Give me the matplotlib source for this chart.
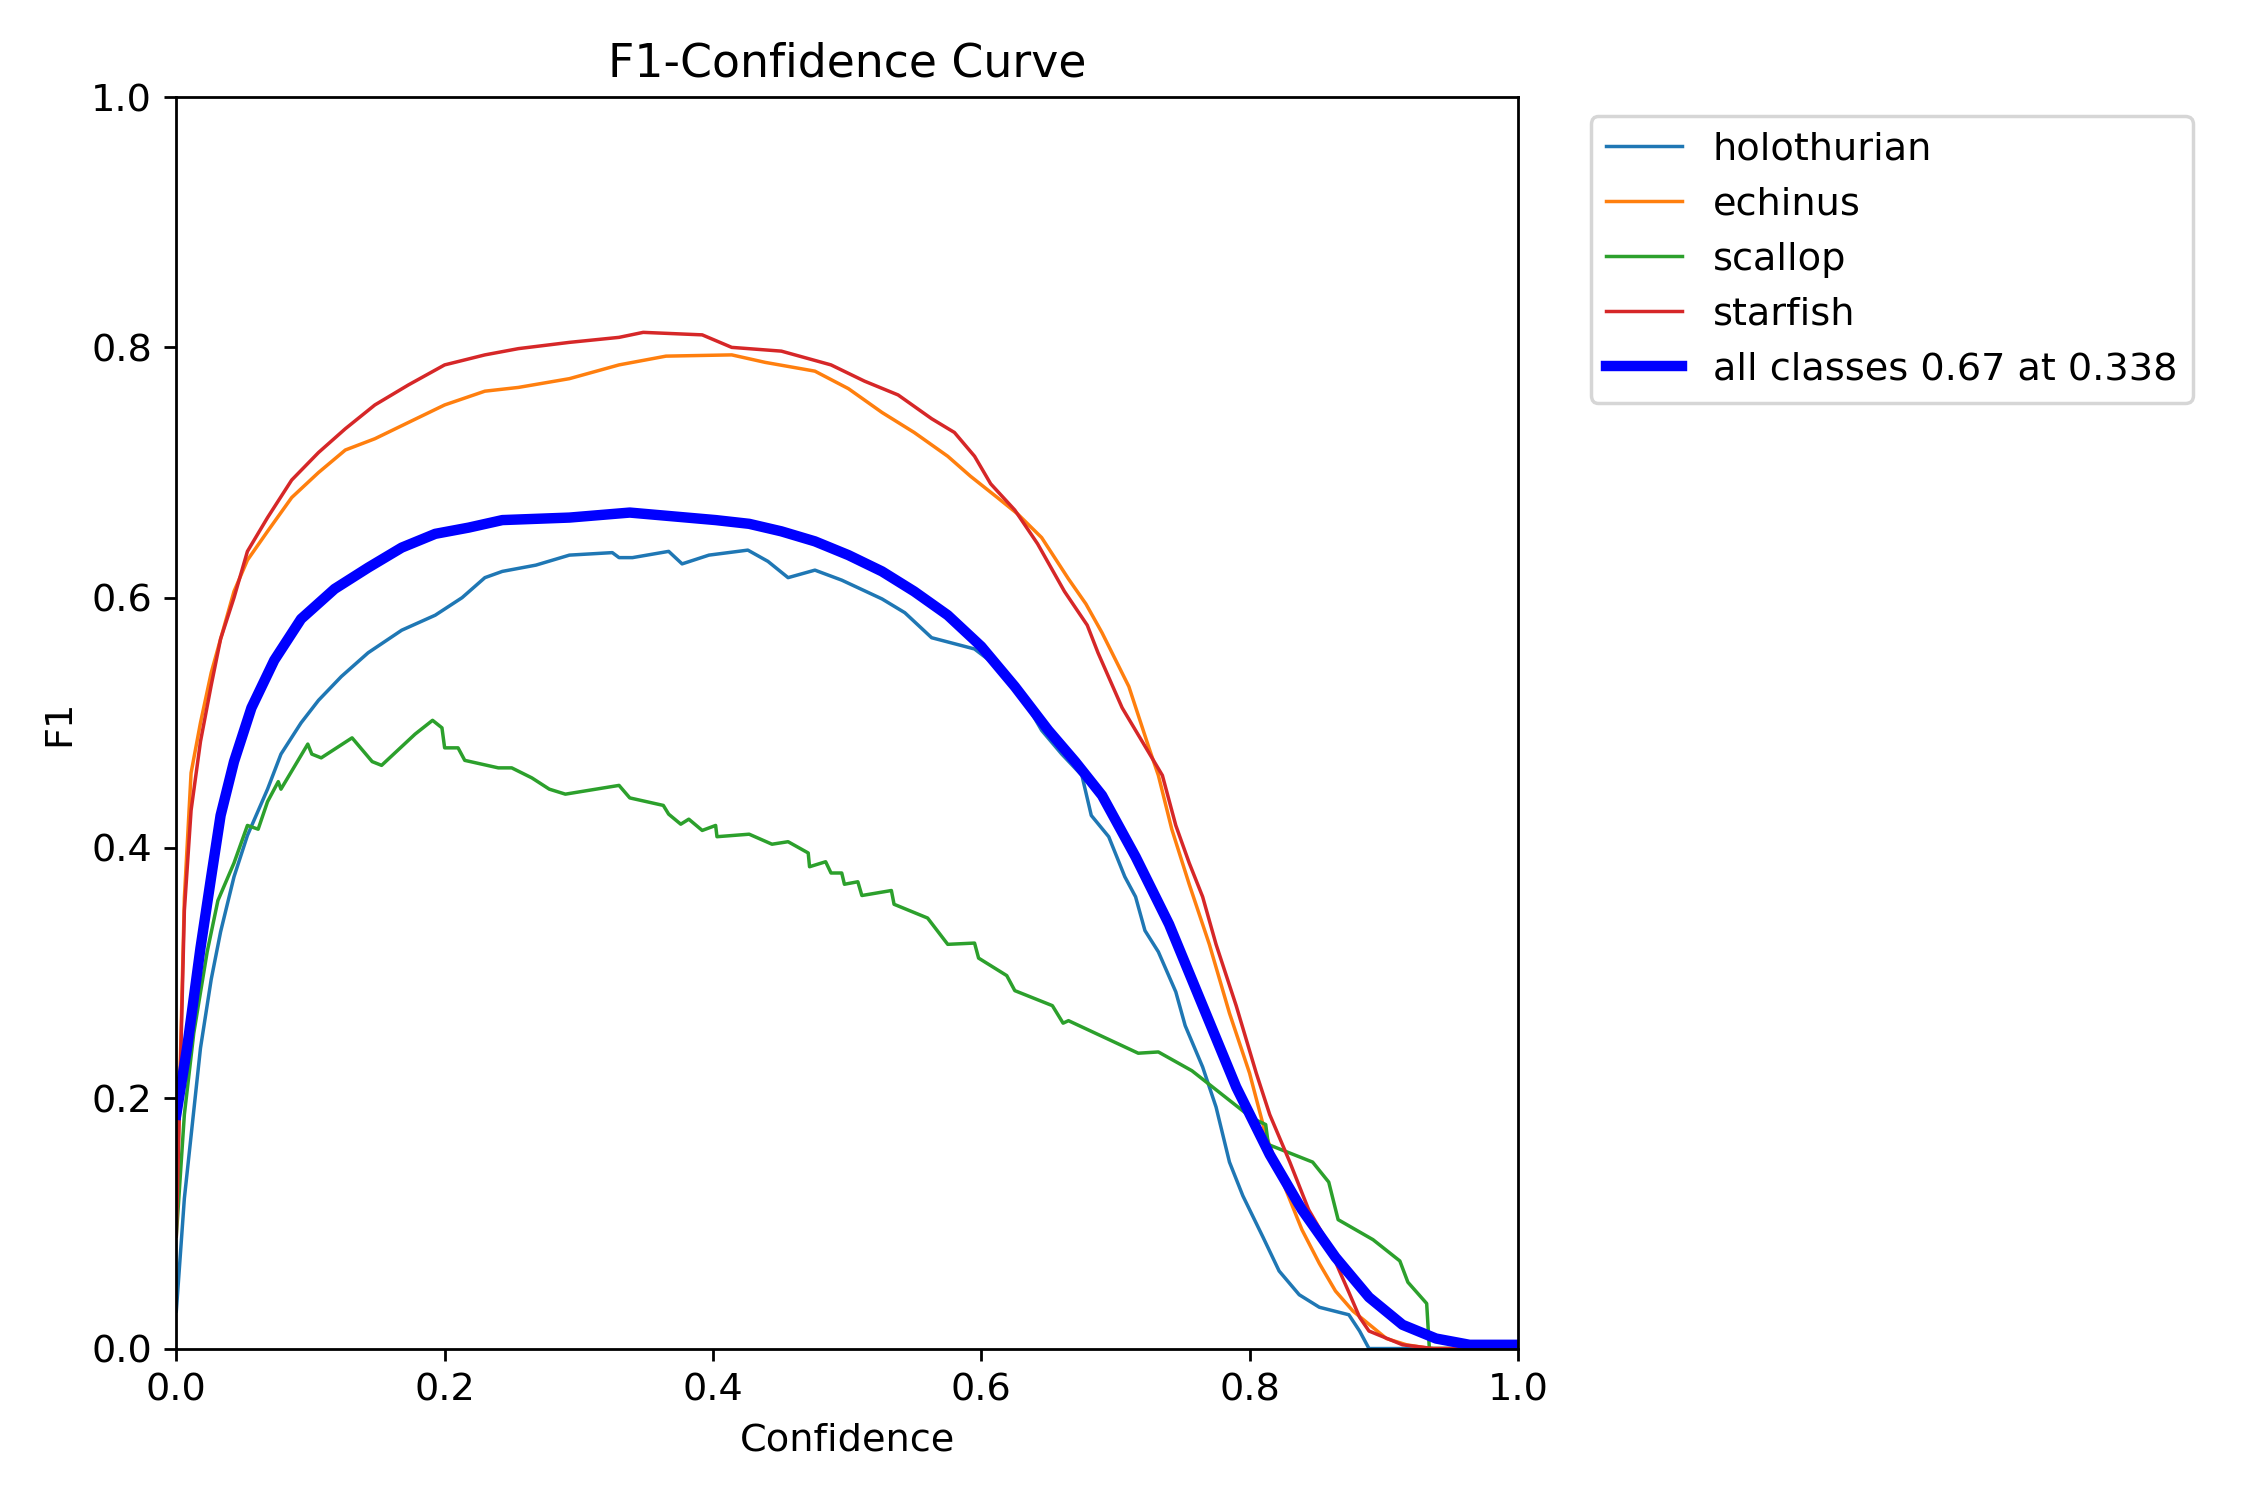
import numpy as np
import matplotlib
matplotlib.use("Agg")
import matplotlib.pyplot as plt

plt.rcParams["font.size"] = 11

# F1 vs confidence
names = ["holothurian", "echinus", "scallop", "starfish"]

holo_x = [0.0, 0.006, 0.011, 0.018, 0.026, 0.033, 0.043, 0.053, 0.068, 0.078, 0.093, 0.106,
          0.123, 0.143, 0.168, 0.193, 0.213, 0.23, 0.243, 0.268, 0.293, 0.325, 0.33, 0.34,
          0.367, 0.377, 0.397, 0.426, 0.441, 0.456, 0.476, 0.496, 0.526, 0.543, 0.563, 0.595,
          0.612, 0.62, 0.632, 0.645, 0.66, 0.675, 0.682, 0.695, 0.707, 0.715, 0.722, 0.732,
          0.745, 0.752, 0.765, 0.775, 0.785, 0.795, 0.81, 0.822, 0.837, 0.852, 0.874, 0.882,
          0.889, 1.0]
holo_y = [0.03, 0.12, 0.17, 0.24, 0.295, 0.333, 0.377, 0.41, 0.447, 0.475, 0.50, 0.518,
          0.537, 0.556, 0.574, 0.586, 0.60, 0.616, 0.621, 0.626, 0.634, 0.636, 0.632, 0.632,
          0.637, 0.627, 0.634, 0.638, 0.629, 0.616, 0.622, 0.614, 0.599, 0.588, 0.568, 0.559,
          0.545, 0.534, 0.518, 0.494, 0.475, 0.458, 0.426, 0.409, 0.377, 0.361, 0.334, 0.317,
          0.285, 0.258, 0.225, 0.193, 0.149, 0.122, 0.089, 0.062, 0.043, 0.033, 0.027, 0.014,
          0.0, 0.0]

echi_x = [0.0, 0.006, 0.011, 0.018, 0.026, 0.033, 0.043, 0.053, 0.068, 0.086, 0.106, 0.126,
          0.148, 0.173, 0.2, 0.23, 0.255, 0.293, 0.33, 0.365, 0.414, 0.439, 0.476, 0.501,
          0.526, 0.55, 0.575, 0.592, 0.612, 0.627, 0.645, 0.665, 0.678, 0.69, 0.71, 0.725,
          0.732, 0.742, 0.755, 0.77, 0.785, 0.8, 0.812, 0.827, 0.839, 0.852, 0.864, 0.877,
          0.902, 0.917, 0.935, 1.0]
echi_y = [0.1, 0.36, 0.46, 0.50, 0.54, 0.567, 0.605, 0.63, 0.653, 0.68, 0.70, 0.718,
          0.727, 0.74, 0.754, 0.765, 0.768, 0.775, 0.786, 0.793, 0.794, 0.788, 0.781, 0.767,
          0.748, 0.732, 0.713, 0.697, 0.68, 0.667, 0.648, 0.615, 0.595, 0.572, 0.529, 0.48,
          0.458, 0.415, 0.371, 0.323, 0.268, 0.22, 0.171, 0.127, 0.095, 0.068, 0.046, 0.03,
          0.008, 0.003, 0.0, 0.0]

scal_x = [0.0, 0.006, 0.013, 0.023, 0.031, 0.043, 0.053, 0.061, 0.068, 0.076, 0.078, 0.098,
          0.101, 0.108, 0.131, 0.146, 0.153, 0.178, 0.191, 0.198, 0.2, 0.21, 0.215, 0.24,
          0.25, 0.265, 0.278, 0.29, 0.33, 0.338, 0.363, 0.367, 0.376, 0.382, 0.392, 0.402,
          0.403, 0.427, 0.444, 0.456, 0.471, 0.472, 0.484, 0.488, 0.496, 0.498, 0.508, 0.511,
          0.533, 0.535, 0.56, 0.575, 0.595, 0.598, 0.619, 0.625, 0.653, 0.661, 0.665, 0.717,
          0.732, 0.757, 0.802, 0.812, 0.814, 0.847, 0.859, 0.866, 0.892, 0.912, 0.918, 0.932,
          0.934, 1.0]
scal_y = [0.09, 0.187, 0.252, 0.317, 0.358, 0.388, 0.418, 0.415, 0.437, 0.453, 0.447, 0.483,
          0.475, 0.472, 0.488, 0.469, 0.466, 0.491, 0.502, 0.496, 0.48, 0.48, 0.47, 0.464,
          0.464, 0.456, 0.447, 0.443, 0.45, 0.44, 0.434, 0.427, 0.419, 0.423, 0.414, 0.418,
          0.409, 0.411, 0.403, 0.405, 0.396, 0.385, 0.389, 0.38, 0.38, 0.371, 0.373, 0.362,
          0.366, 0.355, 0.344, 0.323, 0.324, 0.312, 0.298, 0.286, 0.274, 0.26, 0.262, 0.236,
          0.237, 0.222, 0.184, 0.179, 0.163, 0.149, 0.133, 0.103, 0.087, 0.07, 0.053, 0.036,
          0.0, 0.0]

star_x = [0.0, 0.006, 0.011, 0.018, 0.026, 0.033, 0.043, 0.053, 0.068, 0.086, 0.106, 0.126,
          0.148, 0.173, 0.2, 0.23, 0.255, 0.293, 0.33, 0.348, 0.392, 0.414, 0.451, 0.488,
          0.513, 0.538, 0.563, 0.58, 0.595, 0.607, 0.625, 0.642, 0.662, 0.679, 0.687, 0.705,
          0.72, 0.735, 0.745, 0.755, 0.765, 0.775, 0.79, 0.805, 0.815, 0.83, 0.844, 0.857,
          0.867, 0.874, 0.882, 0.889, 0.914, 0.937, 1.0]
star_y = [0.09, 0.35, 0.43, 0.485, 0.53, 0.567, 0.60, 0.637, 0.664, 0.694, 0.716, 0.735,
          0.754, 0.77, 0.786, 0.794, 0.799, 0.804, 0.808, 0.812, 0.81, 0.80, 0.797, 0.786,
          0.773, 0.762, 0.743, 0.732, 0.713, 0.691, 0.67, 0.643, 0.605, 0.578, 0.556, 0.512,
          0.485, 0.458, 0.418, 0.388, 0.361, 0.323, 0.274, 0.22, 0.187, 0.149, 0.111, 0.087,
          0.062, 0.045, 0.025, 0.014, 0.003, 0.0, 0.0]

mean_x = [0.0, 0.008, 0.018, 0.026, 0.033, 0.043, 0.056, 0.073, 0.093, 0.118, 0.143, 0.168,
          0.193, 0.218, 0.243, 0.293, 0.338, 0.402, 0.427, 0.451, 0.476, 0.501, 0.526, 0.55,
          0.575, 0.6, 0.625, 0.65, 0.67, 0.69, 0.715, 0.74, 0.765, 0.79, 0.815, 0.839, 0.864,
          0.889, 0.914, 0.939, 0.964, 1.0]
mean_y = [0.187, 0.24, 0.32, 0.377, 0.426, 0.469, 0.512, 0.55, 0.583, 0.607, 0.624, 0.64,
          0.651, 0.656, 0.662, 0.664, 0.668, 0.662, 0.659, 0.653, 0.645, 0.634, 0.621, 0.605,
          0.586, 0.561, 0.529, 0.494, 0.469, 0.442, 0.393, 0.339, 0.274, 0.209, 0.155, 0.111,
          0.073, 0.041, 0.019, 0.008, 0.003, 0.003]

series = [(holo_x, holo_y), (echi_x, echi_y), (scal_x, scal_y), (star_x, star_y)]

fig, ax = plt.subplots(1, 1, figsize=(9, 6), tight_layout=True)
for name, (xs, ys) in zip(names, series):
    ax.plot(xs, ys, linewidth=1, label=name)

my = np.array(mean_y)
ax.plot(mean_x, mean_y, linewidth=3, color="blue",
        label="all classes %.2f at %.3f" % (my.max(), mean_x[my.argmax()]))

ax.set_xlabel("Confidence")
ax.set_ylabel("F1")
ax.set_xlim(0, 1)
ax.set_ylim(0, 1)
ax.legend(bbox_to_anchor=(1.04, 1), loc="upper left")
ax.set_title("F1-Confidence Curve")
fig.savefig("out.png", dpi=250)
